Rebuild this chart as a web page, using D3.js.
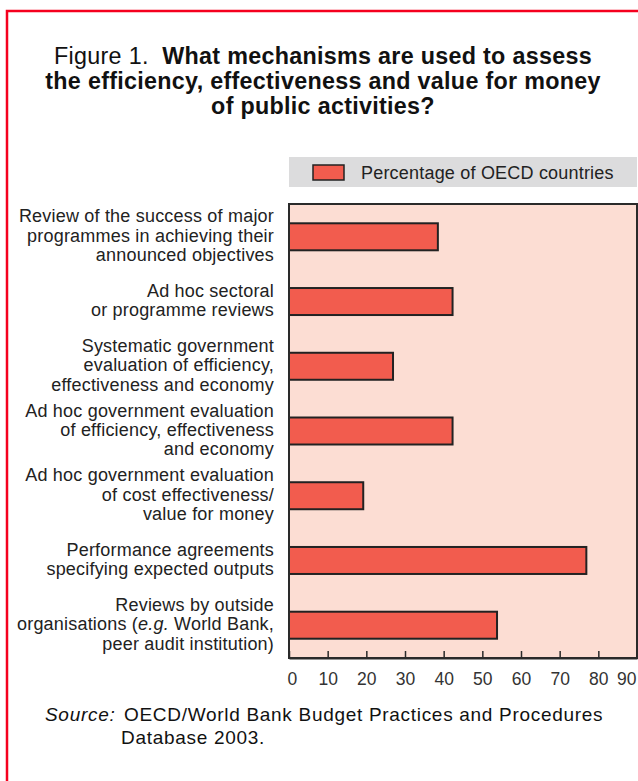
<!DOCTYPE html>
<html>
<head>
<meta charset="utf-8">
<script src="https://cdn.jsdelivr.net/npm/d3@7"></script>
<style>
  html, body { margin: 0; padding: 0; background: #ffffff; }
  svg { display: block; font-family: "Liberation Sans", Arial, Helvetica, sans-serif; }
  text { white-space: pre; }
</style>
</head>
<body>
<svg id="chart" width="638" height="781"></svg>
<script>
// ---------- data ----------
const categories = [
  ["Review of the success of major", "programmes in achieving their", "announced objectives"],
  ["Ad hoc sectoral", "or programme reviews"],
  ["Systematic government", "evaluation of efficiency,", "effectiveness and economy"],
  ["Ad hoc government evaluation", "of efficiency, effectiveness", "and economy"],
  ["Ad hoc government evaluation", "of cost effectiveness/", "value for money"],
  ["Performance agreements", "specifying expected outputs"],
  ["Reviews by outside", "organisations (*e.g.* World Bank,", "peer audit institution)"]
];
const values = [38.5, 42.3, 26.9, 42.3, 19.2, 76.9, 53.8];
const tickValues = [0, 10, 20, 30, 40, 50, 60, 70, 80, 90];
const seriesName = "Percentage of OECD countries";
const titleLines = [
  [{t: "Figure 1.\u00a0 ", b: false}, {t: "What mechanisms are used to assess", b: true}],
  [{t: "the efficiency, effectiveness and value for money", b: true}],
  [{t: "of public activities?", b: true}]
];
const sourceLabel = "Source:";
const sourceLines = ["OECD/World Bank Budget Practices and Procedures", "Database 2003."];

// ---------- styles ----------
const barFill = "#f25c4e";
const plotFill = "#fcddd3";
const ink = "#222222";
const borderRed = "#f5001e";

const svg = d3.select("#chart");

// outer red frame
svg.append("rect")
  .attr("x", 7).attr("y", 11).attr("width", 660).attr("height", 800)
  .attr("fill", "none").attr("stroke", borderRed).attr("stroke-width", 2.5);

// title
const title = svg.append("g");
titleLines.forEach((parts, i) => {
  const t = title.append("text")
    .attr("x", 323).attr("y", 64 + i * 25)
    .attr("text-anchor", "middle")
    .attr("font-size", 23.3).attr("letter-spacing", 0.3)
    .attr("fill", "#111");
  parts.forEach(p => t.append("tspan").attr("font-weight", p.b ? "bold" : "normal").text(p.t));
});

// scales
const x = d3.scaleLinear().domain([0, 90]).range([289, 637]);
const idx = categories.map((d, i) => i);
const y = d3.scaleBand().domain(idx).range([204, 658]).paddingInner(0.583).paddingOuter(0.298);

// legend
svg.append("rect").attr("x", 289).attr("y", 157).attr("width", 348).attr("height", 30).attr("fill", "#dcdcdd");
svg.append("rect").attr("x", 313).attr("y", 165).attr("width", 31).attr("height", 15)
  .attr("fill", barFill).attr("stroke", ink).attr("stroke-width", 1.5);
svg.append("text").attr("x", 361).attr("y", 179)
  .attr("font-size", 18).attr("letter-spacing", 0.2).attr("fill", "#222").text(seriesName);

// plot background
svg.append("rect")
  .attr("x", x(0)).attr("y", 204).attr("width", x(90) - x(0)).attr("height", 658 - 204)
  .attr("fill", plotFill);

// bars
svg.append("g").selectAll("rect").data(values).join("rect")
  .attr("x", x(0))
  .attr("y", (d, i) => y(i))
  .attr("width", d => x(d) - x(0))
  .attr("height", y.bandwidth())
  .attr("fill", barFill)
  .attr("stroke", ink).attr("stroke-width", 2);

// frame
svg.append("rect")
  .attr("x", x(0)).attr("y", 204).attr("width", x(90) - x(0)).attr("height", 658 - 204)
  .attr("fill", "none").attr("stroke", "#2a2a2a").attr("stroke-width", 2);

// x axis
const axis = svg.append("g").attr("transform", "translate(0,658)")
  .call(d3.axisBottom(x).tickValues(tickValues).tickSize(-7).tickSizeOuter(0).tickPadding(15));
axis.select(".domain").attr("stroke", "#2a2a2a").attr("stroke-width", 2);
axis.selectAll(".tick line").attr("stroke", "#2a2a2a").attr("stroke-width", 1.5);
axis.selectAll(".tick text")
  .attr("font-size", 17.5).attr("font-family", "'Liberation Sans', Arial, sans-serif")
  .attr("fill", "#333")
  .attr("text-anchor", (d, i) => i === 0 ? "start" : (i === tickValues.length - 1 ? "end" : "middle"))
  .attr("dx", (d, i) => i === 0 ? -2 : (i === tickValues.length - 1 ? -1 : 0));

// category labels
const labels = svg.append("g");
categories.forEach((lines, i) => {
  const cy = y(i) + y.bandwidth() / 2;
  const lh = 19.3;
  const first = cy + 5 - (lines.length - 1) * lh / 2;
  lines.forEach((line, j) => {
    const t = labels.append("text")
      .attr("x", 274).attr("y", first + j * lh)
      .attr("text-anchor", "end")
      .attr("font-size", 18).attr("letter-spacing", 0.2)
      .attr("fill", "#222");
    line.split("*").forEach((seg, k) => {
      if (!seg) return;
      t.append("tspan").attr("font-style", k % 2 ? "italic" : "normal").text(seg);
    });
  });
});

// source
svg.append("text").attr("x", 45).attr("y", 721)
  .attr("font-size", 19).attr("letter-spacing", 0.7).attr("font-style", "italic").attr("fill", "#111")
  .text(sourceLabel);
sourceLines.forEach((s, i) => {
  svg.append("text").attr("x", i === 0 ? 124 : 121).attr("y", 721 + i * 23)
    .attr("font-size", 19).attr("letter-spacing", 0.7).attr("fill", "#111").text(s);
});
</script>
</body>
</html>
